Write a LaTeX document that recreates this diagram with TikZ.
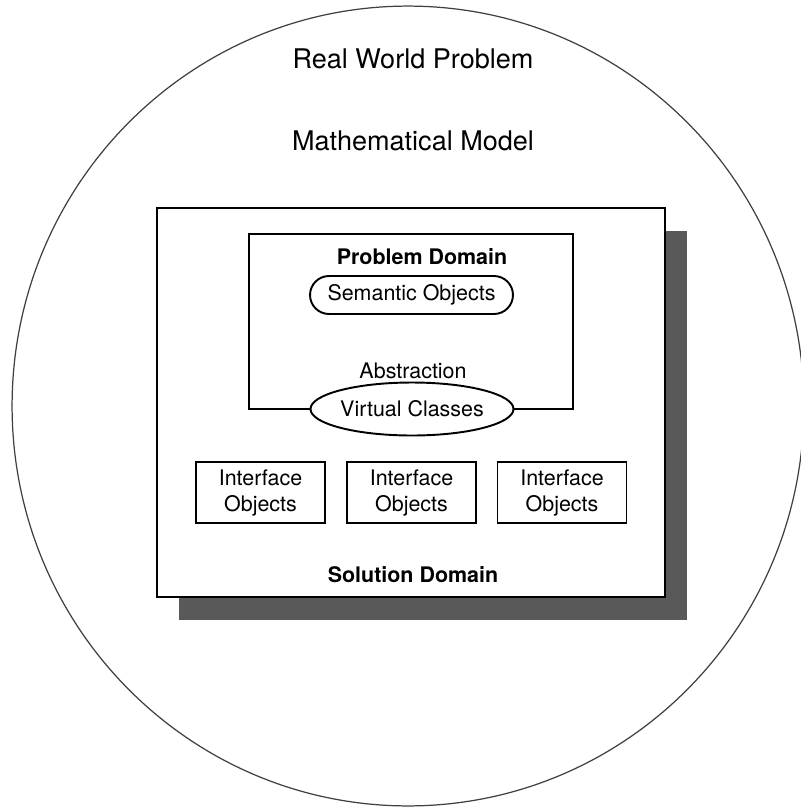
\documentclass[tikz,border=0pt]{standalone}
\usepackage{fontspec}
\setmainfont{TeX Gyre Heros}
\usetikzlibrary{shapes.geometric,shapes.misc}

\tikzset{
  frame/.style={draw=black,line width=1.1pt},
  bigtext/.style={font=\fontsize{15.4}{18}\selectfont},
  smalltext/.style={font=\fontsize{12.2}{14.8}\selectfont},
  boldtext/.style={font=\fontsize{12.2}{14.8}\selectfont\bfseries},
  ifbox/.style={frame,smalltext,fill=white,align=center,inner sep=0pt,
    minimum width=2.58cm,minimum height=1.22cm},
}

\begin{document}
\begin{tikzpicture}[x=0.02cm,y=-0.02cm]
  \useasboundingbox (0,0) rectangle (801,809);
  % outer world
  \node[ellipse,draw=black!75,line width=0.7pt,inner sep=0pt,
    minimum width=15.84cm,minimum height=16cm] (world) at (408,406) {};
  \node[bigtext] (rwp) at (413,59) {Real World Problem};
  \node[bigtext] (model) at (413,141) {Mathematical Model};
  % solution domain with shadow
  \fill[black!65] (179,231) rectangle (687,620);
  \draw[frame,fill=white] (157,208) rectangle (665,597);
  \node[boldtext] (soldom) at (413,575) {Solution Domain};
  % problem domain
  \node[ellipse,frame,smalltext,fill=white,inner sep=0pt,
    minimum width=3.46cm,minimum height=1.06cm] (virt) at (412,409) {Virtual Classes};
  \draw[frame] (virt.west) -- (249,409) |- (573,234) |- (virt.east);
  \node[boldtext] (probdom) at (422,257) {Problem Domain};
  \node[rounded rectangle,frame,smalltext,inner sep=0pt,
    minimum width=4.06cm,minimum height=0.76cm] (sem) at (411.5,295) {Semantic Objects};
  \node[smalltext] (abstr) at (413,371) {Abstraction};
  % interface objects
  \foreach \x [count=\i] in {260.5,411.5,562}
    \node[ifbox] (if\i) at (\x,492.5) {Interface\\Objects};
\end{tikzpicture}
\end{document}
